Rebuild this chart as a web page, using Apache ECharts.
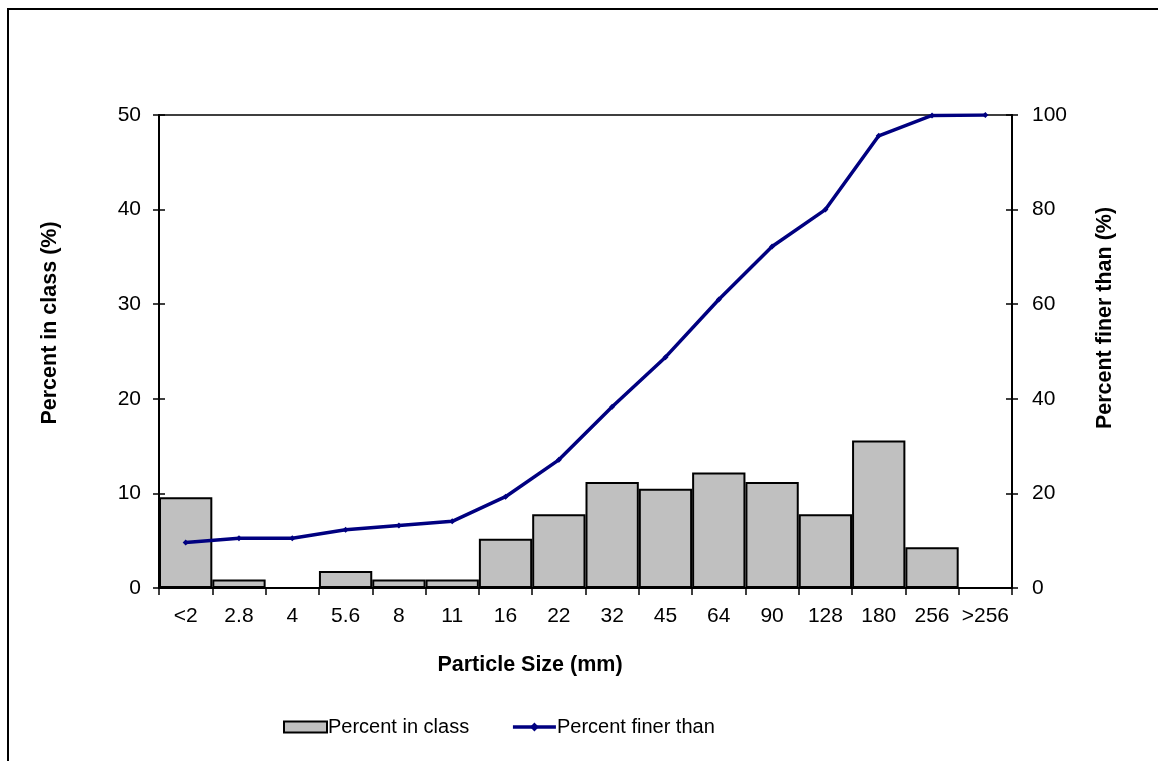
<!DOCTYPE html>
<html><head><meta charset="utf-8">
<script src="https://cdn.jsdelivr.net/npm/echarts@6/dist/echarts.min.js"></script>
<style>html,body{margin:0;padding:0;background:#fff}#c{width:1158px;height:761px}</style>
</head><body><div id="c"></div>
<script>
const categories = ['<2','2.8','4','5.6','8','11','16','22','32','45','64','90','128','180','256','>256'];
const percentInClass = [9.6,0.9,0,1.8,0.9,0.9,5.2,7.8,11.2,10.5,12.2,11.2,7.8,15.6,4.3,0];
const percentFinerThan = [9.6,10.5,10.5,12.3,13.2,14.1,19.3,27.1,38.3,48.8,61.0,72.2,80.0,95.6,99.9,100];
const leftTicks = [0,10,20,30,40,50];
const rightTicks = [0,20,40,60,80,100];

const font = 'Liberation Sans, Arial, sans-serif';
const chart = echarts.init(document.getElementById('c'));
chart.setOption({
  backgroundColor: '#fff',
  animation: false,
  grid: {left: 159, right: 146, top: 115, bottom: 173, show: true, borderColor: '#000', borderWidth: 1.5, backgroundColor: 'transparent'},
  legend: {
    left: 283, top: 717, padding: 0, itemWidth: 43, itemHeight: 11, itemGap: 42,
    textStyle: {fontFamily: font, fontSize: 20, color: '#000', padding: [0,0,0,-4]},
    data: [
      {name: 'Percent in class', icon: 'rect', itemStyle: {color: '#c0c0c0', borderColor: '#000', borderWidth: 2}},
      {name: 'Percent finer than', lineStyle: {width: 3.5, color: '#000080'}}
    ]
  },
  xAxis: {
    type: 'category', data: categories, boundaryGap: true,
    axisLine: {lineStyle: {color: '#000', width: 2}},
    axisTick: {show: true, alignWithLabel: false, length: 7, lineStyle: {color: '#000', width: 1.5}},
    axisLabel: {fontFamily: font, fontSize: 21, color: '#000', margin: 18, interval: 0},
    splitLine: {show: false}
  },
  yAxis: [
    {type: 'value', min: 0, max: 50, interval: 10, position: 'left',
     axisLine: {show: true, lineStyle: {color: '#000', width: 2}},
     axisTick: {show: true, length: 6, lineStyle: {color: '#000', width: 1.5}},
     axisLabel: {fontFamily: font, fontSize: 21, color: '#000', margin: 18,
       formatter: v => leftTicks.includes(v) ? String(v) : ''},
     splitLine: {show: false}},
    {type: 'value', min: 0, max: 100, interval: 20, position: 'right',
     axisLine: {show: true, lineStyle: {color: '#000', width: 2}},
     axisTick: {show: true, length: 6, lineStyle: {color: '#000', width: 1.5}},
     axisLabel: {fontFamily: font, fontSize: 21, color: '#000', margin: 20,
       formatter: v => rightTicks.includes(v) ? String(v) : ''},
     splitLine: {show: false}},
    {type: 'value', min: 0, max: 50, interval: 10, position: 'left',
     axisLine: {show: false}, axisLabel: {show: false}, splitLine: {show: false},
     axisTick: {show: true, inside: true, length: 6, lineStyle: {color: '#000', width: 1.5}}},
    {type: 'value', min: 0, max: 100, interval: 20, position: 'right',
     axisLine: {show: false}, axisLabel: {show: false}, splitLine: {show: false},
     axisTick: {show: true, inside: true, length: 6, lineStyle: {color: '#000', width: 1.5}}}
  ],
  series: [
    {name: 'Percent in class', type: 'bar', yAxisIndex: 0, data: percentInClass,
     barCategoryGap: '0%', barGap: '0%',
     itemStyle: {color: '#c0c0c0', borderColor: '#000', borderWidth: 2}},
    {name: 'Percent finer than', type: 'line', yAxisIndex: 1, data: percentFinerThan,
     symbol: 'diamond', symbolSize: 6, showSymbol: true,
     lineStyle: {color: '#000080', width: 3.5}, itemStyle: {color: '#000080'}}
  ],
  graphic: [
    {type: 'polyline', shape: {points: [[8, 770],[8, 9],[1170, 9]]}, style: {stroke: '#000', lineWidth: 2, fill: null}},
    {type: 'text', x: 530, y: 665, style: {text: 'Particle Size (mm)', textAlign: 'center', textVerticalAlign: 'middle', font: 'bold 21.5px ' + font, fill: '#000'}},
    {type: 'text', rotation: Math.PI/2, x: 50, y: 323, style: {text: 'Percent in class (%)', textAlign: 'center', textVerticalAlign: 'middle', font: 'bold 21.5px ' + font, fill: '#000'}},
    {type: 'text', rotation: Math.PI/2, x: 1105, y: 318, style: {text: 'Percent finer than (%)', textAlign: 'center', textVerticalAlign: 'middle', font: 'bold 21.5px ' + font, fill: '#000'}}
  ]
});
</script></body></html>
